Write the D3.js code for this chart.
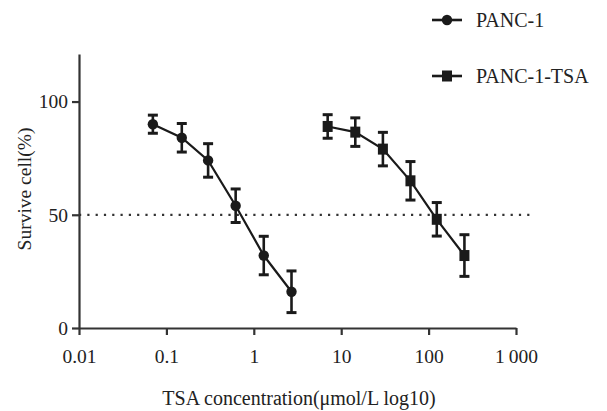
<!DOCTYPE html>
<html>
<head>
<meta charset="utf-8">
<script src="https://cdn.jsdelivr.net/npm/d3@7"></script>
<style>
  html, body { margin: 0; padding: 0; background: #fff; }
  svg text { font-family: 'Liberation Serif', 'DejaVu Serif', 'Times New Roman', Times, serif; fill: #222; }
</style>
</head>
<body>
<svg id="chart" width="607" height="411"></svg>
<script>
// values
const seriesNames = ['PANC-1', 'PANC-1-TSA'];
const conc1 = [0.07, 0.15, 0.3, 0.62, 1.3, 2.7];
const surv1 = [90, 84, 74, 54, 32, 16];
const err1 = [4, 6.3, 7.4, 7.4, 8.5, 9.2];
const conc2 = [7, 14.5, 30, 62, 124, 257];
const surv2 = [89, 86.5, 79, 65, 48, 32];
const err2 = [5.2, 6.3, 7.4, 8.5, 7.4, 9.2];
const xTicks = [0.01, 0.1, 1, 10, 100, 1000];
const xTickLabels = ['0.01', '0.1', '1', '10', '100', '1\u2009000'];
const yTicks = [0, 50, 100];
const refLine = 50;

const fontFam = "'Liberation Serif', 'DejaVu Serif', 'Times New Roman', Times, serif";
const svg = d3.select('#chart');
const x = d3.scaleLog().domain([0.01, 1000]).range([79, 516]);
const y = d3.scaleLinear().domain([0, 121]).range([328, 54]);
const ink = '#1a1a1a';

// dotted 50% line
svg.append('line')
  .attr('x1', x(0.01)).attr('x2', 533)
  .attr('y1', y(refLine)).attr('y2', y(refLine))
  .attr('stroke', '#333').attr('stroke-width', 2.2)
  .attr('stroke-dasharray', '2.2 6.1');

// axes
const xAxis = svg.append('g')
  .attr('transform', `translate(0,${y(0)})`)
  .call(d3.axisBottom(x).tickValues(xTicks)
    .tickFormat((d, i) => xTickLabels[i]).tickSize(7).tickSizeOuter(0).tickPadding(14));
const yAxis = svg.append('g')
  .attr('transform', `translate(${x(0.01)},0)`)
  .call(d3.axisLeft(y).tickValues(yTicks).tickSize(7).tickSizeOuter(0).tickPadding(4));

[xAxis, yAxis].forEach(g => {
  g.attr('font-family', fontFam);
  g.select('.domain').attr('stroke', '#333').attr('stroke-width', 2.2);
  g.selectAll('.tick line').attr('stroke', '#333').attr('stroke-width', 2.2);
  g.selectAll('.tick text').attr('font-size', 19.5).attr('fill', '#222')
    .style('font-family', fontFam);
});

// axis titles
svg.append('text')
  .attr('x', 299).attr('y', 405)
  .attr('text-anchor', 'middle').attr('font-size', 20)
  .style('font-family', fontFam)
  .text('TSA concentration(\u03bcmol/L log10)');
svg.append('text')
  .attr('transform', 'translate(31,189) rotate(-90)')
  .attr('text-anchor', 'middle').attr('font-size', 19.5)
  .style('font-family', fontFam)
  .text('Survive cell(%)');

// series
const series = [
  {name: seriesNames[0], shape: 'circle', pts: conc1.map((c, i) => ({c, v: surv1[i], e: err1[i]}))},
  {name: seriesNames[1], shape: 'square', pts: conc2.map((c, i) => ({c, v: surv2[i], e: err2[i]}))},
];

const line = d3.line().x(d => x(d.c)).y(d => y(d.v));

function drawMarker(g, shape, cx, cy) {
  if (shape === 'circle') {
    g.append('circle').attr('cx', cx).attr('cy', cy).attr('r', 5.2).attr('fill', ink);
  } else {
    g.append('rect').attr('x', cx - 5).attr('y', cy - 5.5)
      .attr('width', 10).attr('height', 11).attr('fill', ink);
  }
}

series.forEach(s => {
  const g = svg.append('g');
  g.append('path').datum(s.pts).attr('d', line)
    .attr('fill', 'none').attr('stroke', ink).attr('stroke-width', 2.2);
  s.pts.forEach(p => {
    const cx = x(p.c);
    g.append('line').attr('x1', cx).attr('x2', cx)
      .attr('y1', y(p.v + p.e)).attr('y2', y(p.v - p.e))
      .attr('stroke', ink).attr('stroke-width', 2.6);
    [p.v + p.e, p.v - p.e].forEach(v => {
      g.append('line').attr('x1', cx - 5).attr('x2', cx + 5)
        .attr('y1', y(v)).attr('y2', y(v))
        .attr('stroke', ink).attr('stroke-width', 3);
    });
    drawMarker(g, s.shape, cx, y(p.v));
  });
});

// legend
const legendRows = [20, 76];
series.forEach((s, i) => {
  const g = svg.append('g').attr('transform', `translate(0,${legendRows[i]})`);
  g.append('line').attr('x1', 432).attr('x2', 462).attr('y1', 0).attr('y2', 0)
    .attr('stroke', ink).attr('stroke-width', 2.6);
  drawMarker(g, s.shape, 447, 0);
  g.append('text').attr('x', 476).attr('y', 7).attr('font-size', 20)
    .style('font-family', fontFam).text(s.name);
});
</script>
</body>
</html>
